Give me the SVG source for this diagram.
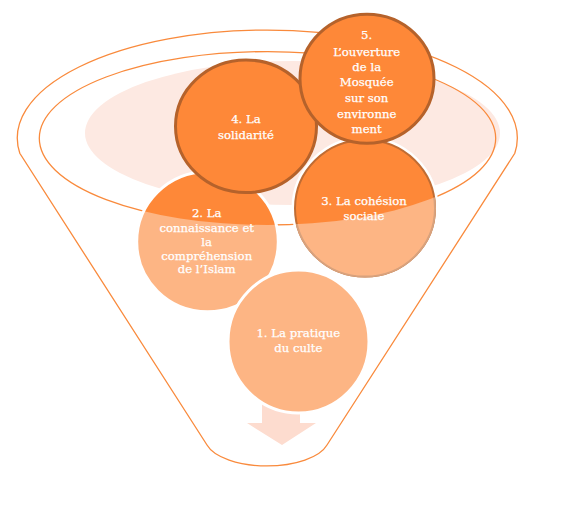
<svg xmlns="http://www.w3.org/2000/svg" width="588" height="527" viewBox="0 0 588 527">
<style>
.line{fill:none;stroke:#F98A3C;stroke-width:1.3}
.bright{fill:#FE8838}
.light{fill:#FDB584}
.dark{stroke:#B5622B;stroke-width:3}
.wring{fill:none;stroke:#FFFFFF;stroke-width:3}
.t{font-family:"DejaVu Serif","Liberation Serif",serif;font-size:11.7px;fill:#FFFFFF;stroke:#FFFFFF;stroke-width:0.25;text-anchor:middle}
</style>
<defs>
<clipPath id="front">
<path d="M0,138.3 L39.3,138.3 A228.2 86.7 0 0 0 495.7,138.3 L588,138.3 L588,527 L0,527 Z"/>
</clipPath>
</defs>
<rect width="588" height="527" fill="#FFFFFF"/>
<g id="funnel">
<ellipse cx="292.5" cy="133" rx="207.5" ry="72" fill="#FDE9E2"/>
<path class="line" d="M19.8,153.3 A250 108 0 1 1 514.8,153.3 L327,445 A62 28 0 0 1 207,445 Z"/>
<ellipse class="line" cx="267.5" cy="138.3" rx="228.2" ry="86.7"/>
</g>
<g id="connectors">
<polygon points="262,398 300,398 300,423 316,423 282,445 247,423 262,423" fill="#FDDCCF"/>
</g>
<g id="node2">
<ellipse class="bright" cx="207.5" cy="241.7" rx="70.8" ry="70"/>
<ellipse class="light" cx="207.5" cy="241.7" rx="70.8" ry="70" clip-path="url(#front)"/>
<ellipse class="wring" cx="207.5" cy="241.7" rx="70.8" ry="70"/>
<text class="t" x="206.7" y="216.7">2. La</text>
<text class="t" x="206.7" y="232.3">connaissance et</text>
<text class="t" x="206.7" y="245.7">la</text>
<text class="t" x="206.7" y="260">compréhension</text>
<text class="t" x="206.7" y="273.3">de l’Islam</text>
</g>
<g id="node1">
<ellipse class="light" cx="298.5" cy="341.5" rx="70.5" ry="71.5"/>
<ellipse class="wring" cx="298.5" cy="341.5" rx="70.5" ry="71.5"/>
<text class="t" x="298.3" y="336.7">1. La pratique</text>
<text class="t" x="298.3" y="351.7">du culte</text>
</g>
<g id="node3">
<ellipse cx="365" cy="208.3" rx="70" ry="68.3" fill="none" stroke="#FFFFFF" stroke-width="7"/>
<ellipse class="bright" cx="365" cy="208.3" rx="70" ry="68.3" stroke="#C06C33" stroke-width="2"/>
<ellipse class="light" cx="365" cy="208.3" rx="70" ry="68.3" stroke="#D8A27D" stroke-width="2" clip-path="url(#front)"/>
<text class="t" x="364" y="204.7">3. La cohésion</text>
<text class="t" x="364" y="220">sociale</text>
</g>
<g id="node4">
<ellipse class="bright dark" cx="246" cy="126.3" rx="70.5" ry="66.3"/>
<text class="t" x="246" y="123.3">4. La</text>
<text class="t" x="246" y="139">solidarité</text>
</g>
<g id="node5">
<ellipse class="bright dark" cx="367" cy="78.8" rx="67" ry="64.5"/>
<text class="t" x="366.7" y="39">5.</text>
<text class="t" x="366.7" y="55.7">L’ouverture</text>
<text class="t" x="366.7" y="71">de la</text>
<text class="t" x="366.7" y="86.3">Mosquée</text>
<text class="t" x="366.7" y="102.3">sur son</text>
<text class="t" x="366.7" y="117.7">environne</text>
<text class="t" x="366.7" y="133">ment</text>
</g>
</svg>
